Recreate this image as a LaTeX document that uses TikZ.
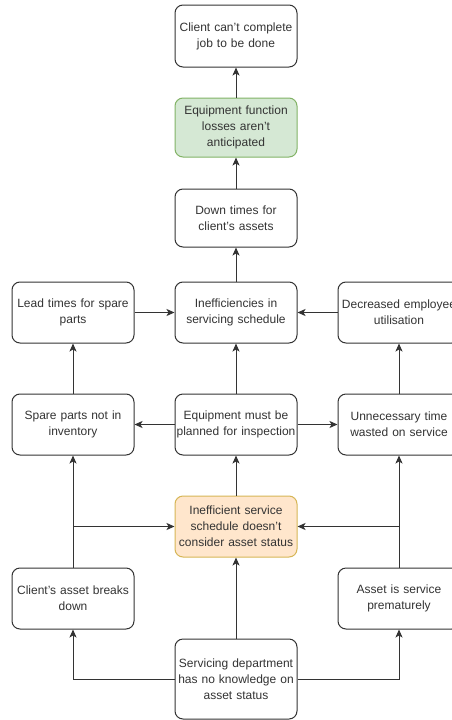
\documentclass[tikz,border=0pt]{standalone}
\usepackage{fontspec}
\setmainfont{Liberation Sans}
\usetikzlibrary{arrows.meta}
\newcommand\apo{\char"0027\relax}
\definecolor{txt}{HTML}{333333}
\definecolor{ln}{HTML}{333333}
\definecolor{gfill}{HTML}{D5E8D4}
\definecolor{gstroke}{HTML}{82B366}
\definecolor{ofill}{HTML}{FFE6CC}
\definecolor{ostroke}{HTML}{D6B656}
\tikzset{
  box/.style={draw=ln, line width=1pt, rounded corners=8pt, fill=white,
    minimum width=122pt, minimum height=61pt, text width=120pt, align=center,
    inner sep=0pt, text=txt, font=\fontsize{12}{16}\selectfont},
  greenbox/.style={box, fill=gfill, draw=gstroke},
  orangebox/.style={box, fill=ofill, draw=ostroke},
  arr/.style={draw=ln, line width=1pt, -{Stealth[length=8pt,width=7pt,inset=2pt]}}
}
\begin{document}
\begin{tikzpicture}[x=1pt,y=-1pt]
\useasboundingbox (0,0) rectangle (452,720);
\clip (0,0) rectangle (452,720);
\fill[white] (0,0) rectangle (452,720);
\node[box, minimum height=62pt] (c1) at (236,36) {Client can\apo t complete\\job to be done};
\node[greenbox, minimum height=59pt] (c2) at (236,127.5) {Equipment function\\losses aren\apo t\\anticipated};
\node[box, minimum height=58pt] (c3) at (236,218) {Down times for\\client\apo s assets};
\node[box] (l4) at (73,312.5) {Lead times for spare\\parts};
\node[box] (c4) at (236,312.5) {Inefficiencies in\\servicing schedule};
\node[box] (r4) at (399,312.5) {Decreased employee\\utilisation};
\node[box] (l5) at (73,424.5) {Spare parts not in\\inventory};
\node[box] (c5) at (236,424.5) {Equipment must be\\planned for inspection};
\node[box] (r5) at (399,424.5) {Unnecessary time\\wasted on service};
\node[orangebox] (c6) at (236,526.5) {Inefficient service\\schedule doesn\apo t\\consider asset status};
\node[box] (l7) at (73,598.5) {Client\apo s asset breaks\\down};
\node[box] (r7) at (399,598.5) {Asset is service\\prematurely};
\node[box, minimum height=80pt] (c8) at (236,679) {Servicing department\\has no knowledge on\\asset status};
\coordinate (jl) at (73,526.5);
\coordinate (jr) at (399,526.5);
\draw[arr] (c2) -- (c1);
\draw[arr] (c3) -- (c2);
\draw[arr] (c4) -- (c3);
\draw[arr] (l4) -- (c4);
\draw[arr] (r4) -- (c4);
\draw[arr] (l5) -- (l4);
\draw[arr] (c5) -- (c4);
\draw[arr] (r5) -- (r4);
\draw[arr] (c5) -- (l5);
\draw[arr] (c5) -- (r5);
\draw[arr] (c6) -- (c5);
\draw[arr] (l7) -- (l5);
\draw[arr] (r7) -- (r5);
\draw[arr] (jl) -- (c6);
\draw[arr] (jr) -- (c6);
\draw[arr] (c8) -- (c6);
\draw[arr] (c8.west) -| (l7.south);
\draw[arr] (c8.east) -| (r7.south);
\end{tikzpicture}
\end{document}
